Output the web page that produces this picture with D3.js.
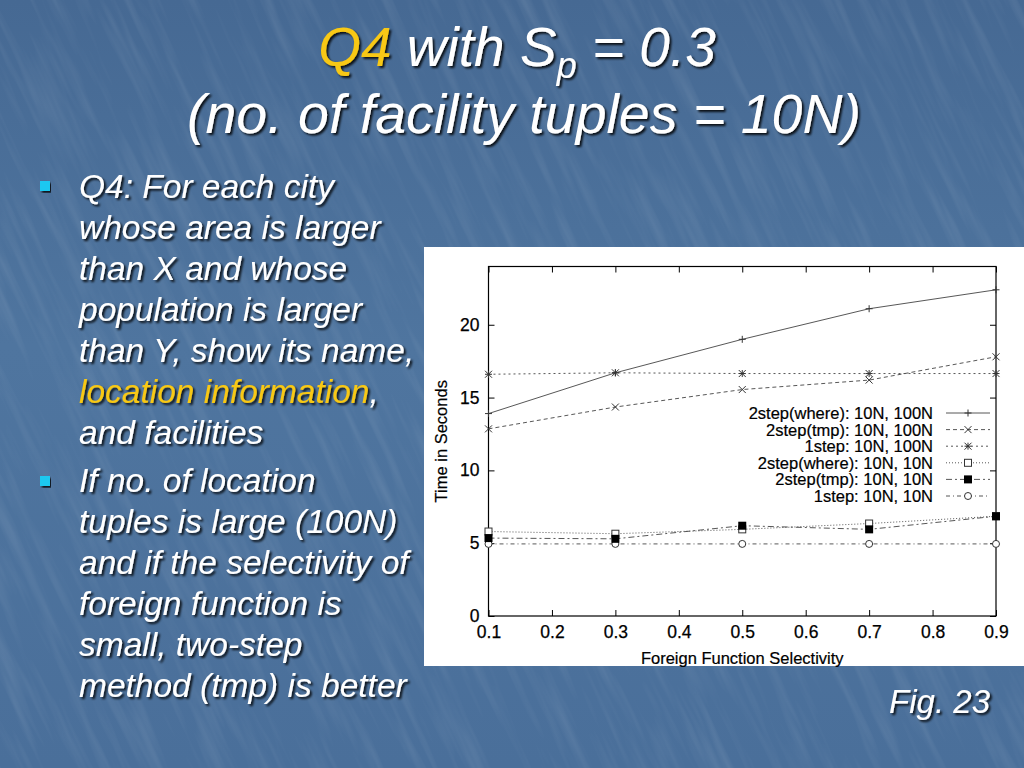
<!DOCTYPE html>
<html>
<head>
<meta charset="utf-8">
<script src="https://cdn.jsdelivr.net/npm/d3@7"></script>
<style>
  html, body { margin: 0; padding: 0; background: #4a6e98; }
  svg { display: block; }
</style>
</head>
<body>
<svg id="slide" width="1024" height="768"></svg>
<script>
// ---------- data ----------
const selectivity = [0.1, 0.3, 0.5, 0.7, 0.9];
const seriesNames = [
  "2step(where): 10N, 100N",
  "2step(tmp): 10N, 100N",
  "1step: 10N, 100N",
  "2step(where): 10N, 10N",
  "2step(tmp): 10N, 10N",
  "1step: 10N, 10N"
];
const where100 = [13.9, 16.7, 19.0, 21.1, 22.4];
const tmp100   = [12.85, 14.35, 15.55, 16.2, 17.8];
const one100   = [16.6, 16.7, 16.65, 16.65, 16.65];
const where10  = [5.8, 5.65, 5.95, 6.35, 6.85];
const tmp10    = [5.35, 5.3, 6.2, 5.95, 6.85];
const one10    = [4.95, 4.95, 4.95, 4.95, 4.95];
const xTicks = [0.1, 0.2, 0.3, 0.4, 0.5, 0.6, 0.7, 0.8, 0.9];
const yTicks = [0, 5, 10, 15, 20];

const seriesValues = [where100, tmp100, one100, where10, tmp10, one10];
const markers = ["plus", "cross", "star", "square", "filled", "circle"];
const dashes = [null, "4,3", "2,3", "1,2", "6,3,2,3", "4,3,1,3"];

// ---------- slide ----------
const svg = d3.select("#slide");
const defs = svg.append("defs");
const grad = defs.append("linearGradient").attr("id", "bg").attr("x1", 0).attr("y1", 0).attr("x2", 0).attr("y2", 1);
grad.append("stop").attr("offset", "0%").attr("stop-color", "#466993");
grad.append("stop").attr("offset", "45%").attr("stop-color", "#4f759f");
grad.append("stop").attr("offset", "100%").attr("stop-color", "#4a6f9a");

const filt = defs.append("filter").attr("id", "tex").attr("x", 0).attr("y", 0).attr("width", 1).attr("height", 1);
filt.append("feTurbulence").attr("type", "fractalNoise").attr("baseFrequency", "0.09 0.008").attr("numOctaves", 3).attr("seed", 7).attr("result", "n");
filt.append("feColorMatrix").attr("in", "n").attr("type", "matrix")
  .attr("values", "0 0 0 0 1  0 0 0 0 1  0 0 0 0 1  0 0 0 -1.2 0.66");

const shadow = defs.append("filter").attr("id", "sh").attr("x", -0.1).attr("y", -0.1).attr("width", 1.2).attr("height", 1.3);
shadow.append("feDropShadow").attr("dx", 2).attr("dy", 2).attr("stdDeviation", 0.8).attr("flood-color", "#000").attr("flood-opacity", 0.85);

svg.append("rect").attr("width", 1024).attr("height", 768).attr("fill", "url(#bg)");
svg.append("g").attr("transform", "rotate(-25 512 384)")
  .append("rect").attr("x", -300).attr("y", -300).attr("width", 1624).attr("height", 1368)
  .attr("filter", "url(#tex)").attr("opacity", 0.15);

// title
const titleFont = "'Liberation Sans', Arial, sans-serif";
const t1 = svg.append("text").attr("x", 517).attr("y", 66).attr("text-anchor", "middle")
  .attr("font-family", titleFont).attr("font-style", "italic").attr("font-size", 55)
  .attr("fill", "#fff").attr("filter", "url(#sh)");
t1.append("tspan").attr("fill", "#f8c812").text("Q4");
t1.append("tspan").text(" with S");
t1.append("tspan").attr("font-size", 36).attr("dy", 12).text("p");
t1.append("tspan").attr("dy", -12).text(" = 0.3");
svg.append("text").attr("x", 524).attr("y", 133).attr("text-anchor", "middle")
  .attr("font-family", titleFont).attr("font-style", "italic").attr("font-size", 55.5)
  .attr("fill", "#fff").attr("filter", "url(#sh)")
  .text("(no. of facility tuples = 10N)");

// bullets
const bullet1 = [
  ["Q4: For each city"],
  ["whose area is larger"],
  ["than X and whose"],
  ["population is larger"],
  ["than Y, show its name,"],
  ["location information", ","],
  ["and facilities"]
];
const bullet2 = [
  "If no. of location",
  "tuples is large (100N)",
  "and if the selectivity of",
  "foreign function is",
  "small, two-step",
  "method (tmp) is better"
];
const bodyG = svg.append("g").attr("font-family", titleFont).attr("font-style", "italic")
  .attr("font-size", 33.5).attr("fill", "#fff").attr("filter", "url(#sh)");
bullet1.forEach((parts, i) => {
  const t = bodyG.append("text").attr("x", 79).attr("y", 198 + i * 41);
  if (parts.length === 2) {
    t.append("tspan").attr("fill", "#f8c812").text(parts[0]);
    t.append("tspan").text(parts[1]);
  } else t.text(parts[0]);
});
bullet2.forEach((s, i) => {
  bodyG.append("text").attr("x", 79).attr("y", 492 + i * 41).text(s);
});
[181, 476].forEach(yy => {
  svg.append("rect").attr("x", 40).attr("y", yy).attr("width", 10).attr("height", 10)
    .attr("fill", "#1ec8f0").attr("filter", "url(#sh)");
});

svg.append("text").attr("x", 990).attr("y", 713).attr("text-anchor", "end")
  .attr("font-family", titleFont).attr("font-style", "italic").attr("font-size", 33)
  .attr("fill", "#fff").attr("filter", "url(#sh)").text("Fig. 23");

// ---------- chart ----------
svg.append("rect").attr("x", 424).attr("y", 247).attr("width", 600).attr("height", 419).attr("fill", "#fff");

const x = d3.scaleLinear().domain([0.1, 0.9]).range([488.5, 996]);
const y = d3.scaleLinear().domain([0, 24]).range([616, 266.5]);
const chartFont = "'Liberation Sans', Arial, sans-serif";

function styleAxis(g) {
  g.select(".domain").remove();
  g.selectAll(".tick line").attr("stroke", "#000").attr("stroke-width", 1);
  g.selectAll(".tick text").attr("font-family", chartFont).attr("font-size", 17.5).attr("fill", "#000")
    .attr("stroke", "#000").attr("stroke-width", 0.25);
}
svg.append("g").attr("transform", `translate(0,${y(0)})`)
  .call(d3.axisBottom(x).tickValues(xTicks).tickFormat(d3.format(".1f")).tickSizeInner(-6).tickSizeOuter(0).tickPadding(10))
  .call(styleAxis);
svg.append("g").attr("transform", `translate(0,${y(24)})`)
  .call(d3.axisTop(x).tickValues(xTicks).tickFormat("").tickSizeInner(-6).tickSizeOuter(0))
  .call(styleAxis);
svg.append("g").attr("transform", `translate(${x(0.1)},0)`)
  .call(d3.axisLeft(y).tickValues(yTicks).tickFormat(d3.format("d")).tickSizeInner(-6).tickSizeOuter(0).tickPadding(9))
  .call(styleAxis);
svg.append("g").attr("transform", `translate(${x(0.9)},0)`)
  .call(d3.axisRight(y).tickValues(yTicks).tickFormat("").tickSizeInner(-6).tickSizeOuter(0))
  .call(styleAxis);

svg.append("rect").attr("x", x(0.1)).attr("y", y(24)).attr("width", x(0.9) - x(0.1)).attr("height", y(0) - y(24))
  .attr("fill", "none").attr("stroke", "#000").attr("stroke-width", 1.2);

svg.append("text").attr("transform", `translate(447,${(y(0) + y(24)) / 2}) rotate(-90)`)
  .attr("text-anchor", "middle").attr("font-family", chartFont).attr("font-size", 16.5).attr("fill", "#000")
  .attr("stroke", "#000").attr("stroke-width", 0.2)
  .text("Time in Seconds");
svg.append("text").attr("x", (x(0.1) + x(0.9)) / 2).attr("y", 664).attr("text-anchor", "middle")
  .attr("font-family", chartFont).attr("font-size", 16.5).attr("fill", "#000")
  .attr("stroke", "#000").attr("stroke-width", 0.2)
  .text("Foreign Function Selectivity");

function drawMarker(g, type, cx, cy) {
  const s = 3.5;
  const col = "#333";
  if (type === "plus" || type === "star") {
    g.append("path").attr("d", `M${cx - s},${cy}H${cx + s}M${cx},${cy - s}V${cy + s}`).attr("stroke", col).attr("fill", "none");
  }
  if (type === "cross" || type === "star") {
    g.append("path").attr("d", `M${cx - s},${cy - s}L${cx + s},${cy + s}M${cx - s},${cy + s}L${cx + s},${cy - s}`).attr("stroke", col).attr("fill", "none");
  }
  if (type === "square") {
    g.append("rect").attr("x", cx - s).attr("y", cy - s).attr("width", 2 * s).attr("height", 2 * s).attr("fill", "#fff").attr("stroke", col);
  }
  if (type === "filled") {
    g.append("rect").attr("x", cx - s - 0.5).attr("y", cy - s - 0.5).attr("width", 2 * s + 1).attr("height", 2 * s + 1).attr("fill", "#000");
  }
  if (type === "circle") {
    g.append("circle").attr("cx", cx).attr("cy", cy).attr("r", s).attr("fill", "#fff").attr("stroke", col);
  }
}

const line = d3.line().x((d, i) => x(selectivity[i])).y(d => y(d));
const order = [2, 5, 3, 4, 1, 0];
order.forEach(k => {
  const g = svg.append("g");
  g.append("path").datum(seriesValues[k]).attr("d", line).attr("fill", "none")
    .attr("stroke", "#444").attr("stroke-width", 0.9).attr("stroke-dasharray", dashes[k]);
  seriesValues[k].forEach((v, i) => drawMarker(g, markers[k], x(selectivity[i]), y(v)));
});

// legend
const leg = svg.append("g");
seriesNames.forEach((name, k) => {
  const cy = 413 + k * 16.6;
  leg.append("text").attr("x", 933).attr("y", cy + 6).attr("text-anchor", "end")
    .attr("font-family", chartFont).attr("font-size", 16.5).attr("fill", "#000")
    .attr("stroke", "#000").attr("stroke-width", 0.2).text(name);
  leg.append("line").attr("x1", 946).attr("x2", 990).attr("y1", cy).attr("y2", cy)
    .attr("stroke", "#444").attr("stroke-width", 0.9).attr("stroke-dasharray", dashes[k]);
  drawMarker(leg, markers[k], 968, cy);
});
</script>
</body>
</html>
